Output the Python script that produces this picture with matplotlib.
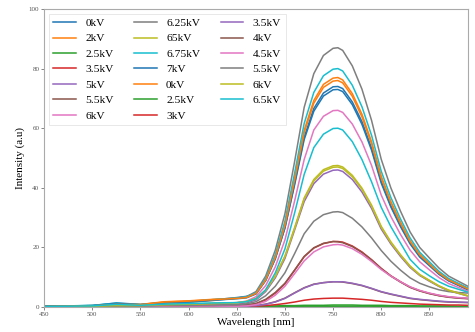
import matplotlib
matplotlib.use("Agg")
import matplotlib.pyplot as plt

plt.rcParams['font.family'] = ['Liberation Serif', 'DejaVu Serif']

wavelength = [450, 475, 500, 525, 550, 575, 600, 625, 650, 660, 670, 680, 690,
              700, 710, 720, 730, 740, 750, 755, 760, 770, 780, 790, 800, 810,
              820, 830, 840, 850, 860, 870, 880, 890]

labels = ['0kV', '2kV', '2.5kV', '3.5kV', '5kV', '5.5kV', '6kV',
          '6.25kV', '65kV', '6.75kV', '7kV', '0kV', '2.5kV', '3kV',
          '3.5kV', '4kV', '4.5kV', '5.5kV', '6kV', '6.5kV']

s0 = [0.3, 0.4, 0.5, 1.4, 0.9, 1.6, 1.9, 2.4, 3.2, 3.6, 4.6, 9.0, 16.2, 26.5, 40.9, 56.2, 65.7,
      70.8, 72.9, 73.0, 72.3, 67.9, 61.3, 52.6, 41.6, 33.6, 27.0, 21.2, 16.8, 13.9, 11.0, 8.8, 7.3, 5.8]
s1 = [0.2, 0.3, 0.5, 1.0, 0.9, 1.8, 2.1, 2.6, 3.0, 3.3, 4.6, 9.2, 16.9, 27.7, 43.1, 59.3, 69.3,
      74.7, 76.8, 77.0, 76.2, 71.6, 64.7, 55.4, 43.9, 35.4, 28.5, 22.3, 17.7, 14.6, 11.6, 9.2, 7.7, 6.2]
s2 = [0.3, 0.3, 0.3, 0.3, 0.3, 0.3, 0.3, 0.3, 0.3, 0.3, 0.3, 0.4, 0.4, 0.5, 0.5, 0.6, 0.6,
      0.6, 0.7, 0.7, 0.7, 0.7, 0.6, 0.6, 0.6, 0.5, 0.5, 0.5, 0.4, 0.4, 0.4, 0.4, 0.3, 0.3]
s3 = [0.1, 0.1, 0.2, 0.2, 0.2, 0.3, 0.4, 0.4, 0.5, 0.7, 1.1, 2.4, 4.7, 7.8, 12.3, 16.9, 19.8,
      21.3, 22.0, 22.0, 21.8, 20.5, 18.5, 15.9, 13.0, 10.5, 8.5, 6.7, 5.5, 4.6, 3.9, 3.4, 3.1, 2.9]
s4 = [0.1, 0.2, 0.2, 0.4, 0.4, 0.6, 0.7, 0.9, 1.0, 1.4, 2.4, 5.2, 9.8, 16.3, 25.8, 35.4, 41.4,
      44.6, 45.9, 46.0, 45.5, 42.8, 38.6, 33.1, 26.2, 21.2, 17.0, 13.3, 10.6, 8.7, 6.9, 5.5, 4.6, 3.7]
s5 = [0.1, 0.1, 0.1, 0.2, 0.2, 0.2, 0.3, 0.3, 0.3, 0.4, 0.5, 1.0, 1.8, 3.0, 4.8, 6.5, 7.7,
      8.2, 8.5, 8.5, 8.4, 7.9, 7.2, 6.2, 5.1, 4.3, 3.6, 2.9, 2.5, 2.2, 1.9, 1.7, 1.6, 1.5]
s6 = [0.1, 0.2, 0.3, 0.4, 0.4, 0.6, 0.8, 1.1, 1.5, 2.0, 3.5, 7.2, 13.5, 22.5, 35.5, 49.5, 59.4,
      64.0, 65.9, 66.0, 65.3, 61.4, 55.4, 47.5, 37.6, 30.4, 24.4, 19.1, 15.2, 12.5, 9.9, 7.9, 6.6, 5.3]
s7 = [0.2, 0.3, 0.4, 0.8, 0.7, 1.3, 1.6, 2.2, 3.0, 3.5, 5.2, 10.4, 19.1, 31.3, 48.7, 67.0, 78.3,
      84.4, 86.8, 87.0, 86.1, 80.9, 73.1, 62.6, 49.6, 40.0, 32.2, 25.2, 20.0, 16.5, 13.1, 10.4, 8.7, 7.0]
s8 = [0.1, 0.2, 0.3, 0.5, 0.5, 0.8, 1.0, 1.2, 1.5, 1.9, 2.9, 5.7, 10.5, 17.1, 26.6, 36.6, 42.8,
      46.1, 47.4, 47.5, 47.0, 44.2, 39.9, 34.2, 27.1, 21.9, 17.6, 13.8, 10.9, 9.0, 7.1, 5.7, 4.8, 3.8]
s9 = [0.3, 0.4, 0.6, 1.3, 0.8, 1.5, 1.8, 2.5, 3.0, 3.4, 4.8, 9.6, 17.6, 28.8, 44.8, 61.6, 72.0,
      77.6, 79.8, 80.0, 79.2, 74.4, 67.2, 57.6, 45.6, 36.8, 29.6, 23.2, 18.4, 15.2, 12.0, 9.6, 8.0, 6.4]
s10 = [0.3, 0.4, 0.5, 1.2, 0.8, 1.5, 1.7, 2.3, 2.8, 3.1, 4.4, 8.9, 16.3, 26.6, 41.4, 57.0, 66.6,
       71.8, 73.9, 74.0, 73.3, 68.8, 62.2, 53.3, 42.2, 34.0, 27.4, 21.5, 17.0, 14.1, 11.1, 8.9, 7.4, 5.9]
s11 = [0.2, 0.3, 0.4, 0.9, 0.8, 1.7, 2.0, 2.5, 2.9, 3.2, 4.6, 9.1, 16.7, 27.4, 42.6, 58.5, 68.4,
       73.7, 75.8, 76.0, 75.2, 70.7, 63.8, 54.7, 43.3, 35.0, 28.1, 22.0, 17.5, 14.4, 11.4, 9.1, 7.6, 6.1]
s12 = [0.1, 0.1, 0.1, 0.1, 0.1, 0.1, 0.1, 0.1, 0.1, 0.1, 0.1, 0.2, 0.2, 0.2, 0.2, 0.3, 0.3,
       0.3, 0.3, 0.3, 0.3, 0.3, 0.3, 0.3, 0.2, 0.2, 0.2, 0.2, 0.2, 0.2, 0.1, 0.1, 0.1, 0.1]
s13 = [0.1, 0.1, 0.1, 0.1, 0.1, 0.1, 0.1, 0.1, 0.1, 0.2, 0.3, 0.5, 0.8, 1.2, 1.7, 2.3, 2.7,
       2.9, 3.0, 3.0, 3.0, 2.8, 2.6, 2.3, 1.9, 1.6, 1.4, 1.2, 1.0, 0.9, 0.8, 0.7, 0.7, 0.6]
s14 = [0.1, 0.1, 0.1, 0.2, 0.2, 0.2, 0.3, 0.3, 0.2, 0.3, 0.5, 0.9, 1.7, 2.9, 4.7, 6.4, 7.6,
       8.2, 8.5, 8.5, 8.5, 8.0, 7.3, 6.3, 5.2, 4.4, 3.7, 3.0, 2.6, 2.3, 2.0, 1.8, 1.7, 1.6]
s15 = [0.1, 0.1, 0.2, 0.2, 0.2, 0.3, 0.4, 0.4, 0.6, 0.8, 1.2, 2.6, 4.9, 8.0, 12.4, 17.0, 19.9,
       21.4, 22.0, 21.9, 21.6, 20.3, 18.3, 15.8, 12.9, 10.4, 8.4, 6.6, 5.4, 4.5, 3.8, 3.3, 3.0, 2.8]
s16 = [0.1, 0.1, 0.2, 0.2, 0.2, 0.3, 0.4, 0.4, 0.3, 0.4, 0.8, 1.9, 4.0, 7.0, 11.2, 15.5, 18.5,
       20.2, 20.9, 21.0, 20.8, 19.6, 17.7, 15.3, 12.6, 10.4, 8.5, 6.8, 5.6, 4.7, 4.0, 3.5, 3.2, 3.0]
s17 = [0.1, 0.2, 0.2, 0.3, 0.3, 0.5, 0.6, 0.7, 0.8, 1.1, 1.8, 3.8, 7.0, 11.5, 17.9, 24.6, 28.8,
       31.0, 31.9, 32.0, 31.7, 29.8, 26.9, 23.2, 19.0, 15.4, 12.4, 9.8, 8.0, 6.8, 5.8, 5.2, 4.9, 4.7]
s18 = [0.1, 0.2, 0.3, 0.5, 0.5, 0.8, 1.0, 1.2, 1.4, 1.8, 2.8, 5.6, 10.3, 16.9, 26.3, 36.2, 42.3,
       45.6, 46.9, 47.0, 46.5, 43.7, 39.5, 33.8, 26.8, 21.6, 17.4, 13.6, 10.8, 8.9, 7.1, 5.6, 4.7, 3.8]
s19 = [0.2, 0.3, 0.4, 0.9, 0.6, 1.0, 1.2, 1.4, 1.5, 1.8, 2.8, 5.8, 11.5, 19.5, 31.5, 44.5, 53.5,
       58.0, 59.9, 60.0, 59.4, 55.5, 49.5, 42.0, 33.5, 27.0, 21.5, 16.0, 12.7, 10.5, 8.5, 7.0, 6.0, 5.0]

series = [s0, s1, s2, s3, s4, s5, s6, s7, s8, s9,
          s10, s11, s12, s13, s14, s15, s16, s17, s18, s19]

fig = plt.figure(figsize=(4.75, 3.32), dpi=100)
ax = fig.add_axes([0.093, 0.075, 0.892, 0.898])

for vals, lab in zip(series, labels):
    ax.plot(wavelength, vals, lw=1.1, label=lab)

ax.set_xlim(450, 890)
ax.set_ylim(0, 100)
ax.set_xticks([450, 500, 550, 600, 650, 700, 750, 800, 850])
ax.set_yticks([0, 20, 40, 60, 80, 100])
ax.tick_params(labelsize=5, length=2, width=0.5, colors='#555555', pad=1.5)
for sp in ax.spines.values():
    sp.set_color('#aaaaaa')
    sp.set_linewidth(0.8)

ax.set_xlabel('Wavelength [nm]', fontsize=8, labelpad=1)
ax.set_ylabel('Intensity (a.u)', fontsize=8, labelpad=3)

leg = ax.legend(ncol=3, loc='upper left', fontsize=8.2, frameon=True,
                borderaxespad=0.4, handlelength=2.0, columnspacing=1.8,
                labelspacing=0.48, fancybox=False)
leg.get_frame().set_edgecolor('#dddddd')
leg.get_frame().set_linewidth(0.6)

fig.savefig('out.png', dpi=100)
